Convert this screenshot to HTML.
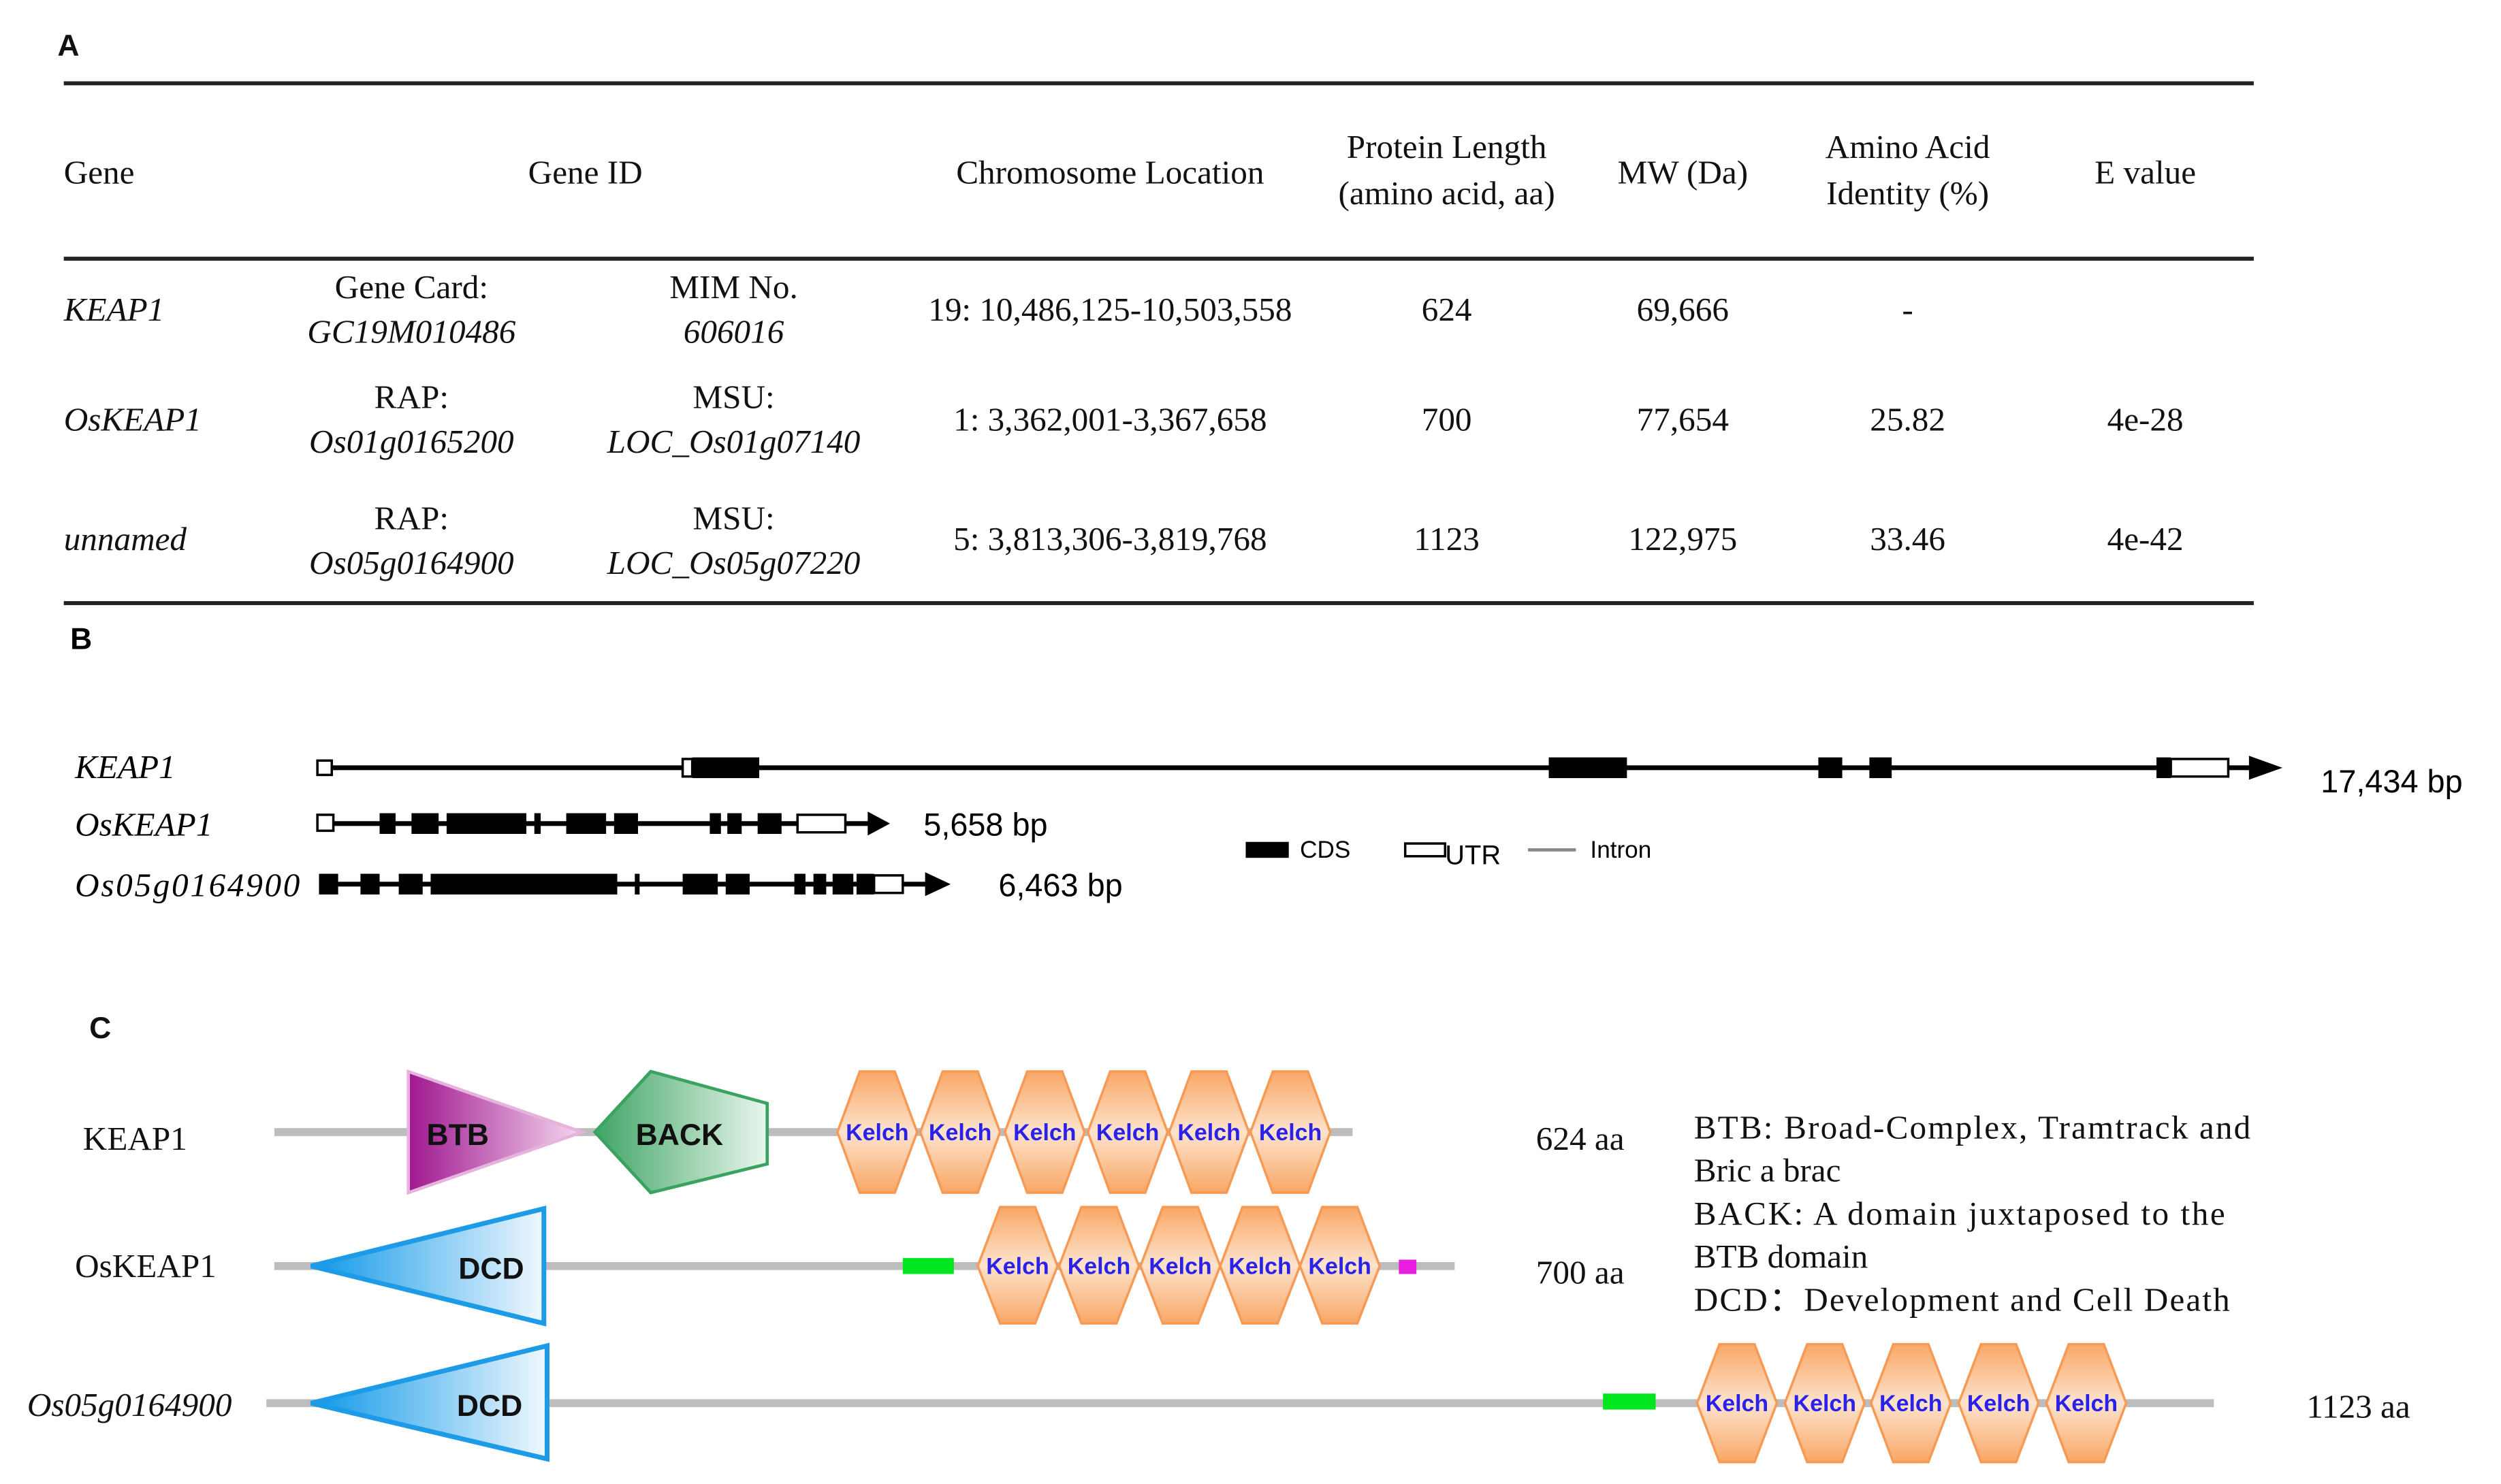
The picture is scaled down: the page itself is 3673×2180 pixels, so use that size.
<!DOCTYPE html>
<html><head><meta charset="utf-8"><style>html,body{margin:0;padding:0;background:#fff}svg{display:block}</style></head>
<body>
<svg width="3673" height="2180" viewBox="0 0 1568 930.7" preserveAspectRatio="none" xmlns="http://www.w3.org/2000/svg">
<defs>
<linearGradient id="kel" x1="0" y1="0" x2="0" y2="1"><stop offset="0" stop-color="#f9a766"/><stop offset="0.5" stop-color="#fde3cc"/><stop offset="1" stop-color="#f9a766"/></linearGradient>
<linearGradient id="btb" x1="0" y1="0" x2="1" y2="0"><stop offset="0" stop-color="#a0178f"/><stop offset="1" stop-color="#f4d8ef"/></linearGradient>
<linearGradient id="back" x1="0" y1="0" x2="1" y2="0"><stop offset="0" stop-color="#3fa565"/><stop offset="1" stop-color="#eaf6ee"/></linearGradient>
<linearGradient id="dcd" x1="0" y1="0" x2="1" y2="0"><stop offset="0" stop-color="#0f98e8"/><stop offset="1" stop-color="#f0f8fe"/></linearGradient>
</defs>
<g font-family="Liberation Serif, serif" font-size="21" fill="#111">
<text x="36" y="35" font-family="Liberation Sans, sans-serif" font-weight="bold" font-size="19">A</text>
<rect x="40" y="51" width="1373" height="2.5" fill="#222"/>
<rect x="40" y="161" width="1373" height="2.5" fill="#222"/>
<rect x="40" y="377" width="1373" height="2.5" fill="#222"/>
<text x="40" y="115">Gene</text>
<g text-anchor="middle">
<text x="367" y="115">Gene ID</text>
<text x="696" y="115">Chromosome Location</text>
<text x="907" y="99">Protein Length</text><text x="907" y="128">(amino acid, aa)</text>
<text x="1055" y="115">MW (Da)</text>
<text x="1196" y="99">Amino Acid</text><text x="1196" y="128">Identity (%)</text>
<text x="1345" y="115">E value</text>
<text x="258" y="187">Gene Card:</text><text x="258" y="215" font-style="italic">GC19M010486</text>
<text x="460" y="187">MIM No.</text><text x="460" y="215" font-style="italic">606016</text>
<text x="696" y="201">19: 10,486,125-10,503,558</text>
<text x="907" y="201">624</text><text x="1055" y="201">69,666</text><text x="1196" y="201">-</text>
<text x="258" y="256">RAP:</text><text x="258" y="284" font-style="italic">Os01g0165200</text>
<text x="460" y="256">MSU:</text><text x="460" y="284" font-style="italic">LOC_Os01g07140</text>
<text x="696" y="270">1: 3,362,001-3,367,658</text>
<text x="907" y="270">700</text><text x="1055" y="270">77,654</text><text x="1196" y="270">25.82</text><text x="1345" y="270">4e-28</text>
<text x="258" y="332">RAP:</text><text x="258" y="360" font-style="italic">Os05g0164900</text>
<text x="460" y="332">MSU:</text><text x="460" y="360" font-style="italic">LOC_Os05g07220</text>
<text x="696" y="345">5: 3,813,306-3,819,768</text>
<text x="907" y="345">1123</text><text x="1055" y="345">122,975</text><text x="1196" y="345">33.46</text><text x="1345" y="345">4e-42</text>
</g>
<text x="40" y="201" font-style="italic">KEAP1</text>
<text x="40" y="270" font-style="italic">OsKEAP1</text>
<text x="40" y="345" font-style="italic">unnamed</text>
</g>
<!-- B -->
<g font-family="Liberation Sans, sans-serif">
<text x="44" y="407" font-weight="bold" font-size="19">B</text>
<g font-family="Liberation Serif, serif" font-style="italic" font-size="21">
<text x="47" y="488">KEAP1</text><text x="47" y="524">OsKEAP1</text><text x="47" y="562" textLength="141">Os05g0164900</text>
</g>
<rect x="203" y="480" width="1210" height="3" fill="#000"/>
<polygon points="1410,474 1431,481.5 1410,489" fill="#000"/>
<rect x="199" y="477" width="9" height="9" fill="#fff" stroke="#000" stroke-width="1.5"/>
<rect x="428" y="476" width="6" height="11" fill="#fff" stroke="#000" stroke-width="1.5"/>
<rect x="434" y="475" width="42" height="13" fill="#000"/>
<rect x="971" y="475" width="49" height="13" fill="#000"/>
<rect x="1140" y="475" width="15" height="13" fill="#000"/>
<rect x="1172" y="475" width="14" height="13" fill="#000"/>
<rect x="1352" y="475" width="9" height="13" fill="#000"/>
<rect x="1361" y="476" width="36" height="11" fill="#fff" stroke="#000" stroke-width="1.5"/>
<text x="1455" y="497" font-size="20">17,434 bp</text>
<rect x="203" y="515" width="345" height="3" fill="#000"/>
<polygon points="544,509 558,516.5 544,524" fill="#000"/>
<rect x="199" y="511" width="10" height="10" fill="#fff" stroke="#000" stroke-width="1.5"/>
<g fill="#000">
<rect x="238" y="510" width="10" height="13"/><rect x="258" y="510" width="17" height="13"/><rect x="280" y="510" width="50" height="13"/><rect x="335" y="510" width="4" height="13"/><rect x="355" y="510" width="25" height="13"/><rect x="385" y="510" width="15" height="13"/><rect x="445" y="510" width="7" height="13"/><rect x="456" y="510" width="9" height="13"/><rect x="475" y="510" width="15" height="13"/>
</g>
<rect x="500" y="511" width="30" height="11" fill="#fff" stroke="#000" stroke-width="1.5"/>
<text x="579" y="524" font-size="20">5,658 bp</text>
<rect x="203" y="553" width="382" height="3" fill="#000"/>
<polygon points="580,547 596,554.5 580,562" fill="#000"/>
<g fill="#000">
<rect x="200" y="548" width="12" height="13"/><rect x="226" y="548" width="12" height="13"/><rect x="250" y="548" width="15" height="13"/><rect x="270" y="548" width="117" height="13"/><rect x="398" y="548" width="3" height="13"/><rect x="428" y="548" width="22" height="13"/><rect x="455" y="548" width="15" height="13"/><rect x="498" y="548" width="7" height="13"/><rect x="510" y="548" width="8" height="13"/><rect x="522" y="548" width="13" height="13"/><rect x="537" y="548" width="11" height="13"/>
</g>
<rect x="548" y="549" width="18" height="11" fill="#fff" stroke="#000" stroke-width="1.5"/>
<text x="626" y="562" font-size="20">6,463 bp</text>
<rect x="781" y="528" width="27" height="10" fill="#000"/>
<text x="815" y="538" font-size="15">CDS</text>
<rect x="881" y="529" width="25" height="8" fill="#fff" stroke="#000" stroke-width="1.5"/>
<text x="906" y="542" font-size="17">UTR</text>
<rect x="958" y="532" width="30" height="2" fill="#888"/>
<text x="997" y="538" font-size="15">Intron</text>
</g>
<!-- C -->
<g font-family="Liberation Serif, serif" font-size="21" fill="#111">
<text x="56" y="651" font-family="Liberation Sans, sans-serif" font-weight="bold" font-size="19">C</text>
<text x="52" y="721">KEAP1</text>
<text x="47" y="801">OsKEAP1</text>
<text x="17" y="888" font-style="italic">Os05g0164900</text>
<text x="963" y="721">624 aa</text>
<text x="963" y="805">700 aa</text>
<text x="1446" y="889">1123 aa</text>
<text x="1062" y="714" textLength="349">BTB: Broad-Complex, Tramtrack and</text>
<text x="1062" y="741">Bric a brac</text>
<text x="1062" y="768" textLength="333">BACK: A domain  juxtaposed to the</text>
<text x="1062" y="795">BTB domain</text>
<text x="1062" y="822" textLength="336">DCD：Development and Cell Death</text>
</g>
<rect x="172" y="707.5" width="676" height="5" fill="#bdbdbd"/>
<rect x="172" y="791.5" width="740" height="5" fill="#bdbdbd"/>
<rect x="167" y="877.5" width="1221" height="5" fill="#bdbdbd"/>
<polygon points="256,672 365,710 256,748" fill="url(#btb)" stroke="#e6b3dd" stroke-width="2"/>
<text x="287" y="718" font-family="Liberation Sans, sans-serif" font-weight="bold" font-size="19" text-anchor="middle" fill="#111">BTB</text>
<polygon points="373,710 408,672 481,692 481,730 408,748" fill="url(#back)" stroke="#3aa35f" stroke-width="2"/>
<text x="426" y="718" font-family="Liberation Sans, sans-serif" font-weight="bold" font-size="19" text-anchor="middle" fill="#111">BACK</text>
<polygon points="195,794 341,758 341,830" fill="url(#dcd)" stroke="#1d9be6" stroke-width="3"/>
<text x="308" y="802" font-family="Liberation Sans, sans-serif" font-weight="bold" font-size="19" text-anchor="middle" fill="#111">DCD</text>
<polygon points="195,880 343,844 343,915" fill="url(#dcd)" stroke="#1d9be6" stroke-width="3"/>
<text x="307" y="888" font-family="Liberation Sans, sans-serif" font-weight="bold" font-size="19" text-anchor="middle" fill="#111">DCD</text>
<rect x="566" y="789" width="32" height="10" fill="#00e61e"/>
<rect x="877" y="790" width="11" height="9" fill="#e81ee0"/>
<rect x="1005" y="874" width="33" height="10" fill="#00e61e"/>
<g font-family="Liberation Sans, sans-serif" font-weight="bold" font-size="14.5" fill="#2a22e8" text-anchor="middle">
<polygon points="539,672 561,672 575,710 561,748 539,748 525,710" fill="url(#kel)" stroke="#f79a55" stroke-width="1.5"/><text x="550" y="715">Kelch</text>
<polygon points="591,672 613,672 627,710 613,748 591,748 577,710" fill="url(#kel)" stroke="#f79a55" stroke-width="1.5"/><text x="602" y="715">Kelch</text>
<polygon points="644,672 666,672 680,710 666,748 644,748 630,710" fill="url(#kel)" stroke="#f79a55" stroke-width="1.5"/><text x="655" y="715">Kelch</text>
<polygon points="696,672 718,672 732,710 718,748 696,748 682,710" fill="url(#kel)" stroke="#f79a55" stroke-width="1.5"/><text x="707" y="715">Kelch</text>
<polygon points="747,672 769,672 783,710 769,748 747,748 733,710" fill="url(#kel)" stroke="#f79a55" stroke-width="1.5"/><text x="758" y="715">Kelch</text>
<polygon points="798,672 820,672 834,710 820,748 798,748 784,710" fill="url(#kel)" stroke="#f79a55" stroke-width="1.5"/><text x="809" y="715">Kelch</text>
<polygon points="627,757 649,757 663,794 649,830 627,830 613,794" fill="url(#kel)" stroke="#f79a55" stroke-width="1.5"/><text x="638" y="799">Kelch</text>
<polygon points="678,757 700,757 714,794 700,830 678,830 664,794" fill="url(#kel)" stroke="#f79a55" stroke-width="1.5"/><text x="689" y="799">Kelch</text>
<polygon points="729,757 751,757 765,794 751,830 729,830 715,794" fill="url(#kel)" stroke="#f79a55" stroke-width="1.5"/><text x="740" y="799">Kelch</text>
<polygon points="779,757 801,757 815,794 801,830 779,830 765,794" fill="url(#kel)" stroke="#f79a55" stroke-width="1.5"/><text x="790" y="799">Kelch</text>
<polygon points="829,757 851,757 865,794 851,830 829,830 815,794" fill="url(#kel)" stroke="#f79a55" stroke-width="1.5"/><text x="840" y="799">Kelch</text>
<polygon points="1078,843 1100,843 1114,880 1100,917 1078,917 1064,880" fill="url(#kel)" stroke="#f79a55" stroke-width="1.5"/><text x="1089" y="885">Kelch</text>
<polygon points="1133,843 1155,843 1169,880 1155,917 1133,917 1119,880" fill="url(#kel)" stroke="#f79a55" stroke-width="1.5"/><text x="1144" y="885">Kelch</text>
<polygon points="1187,843 1209,843 1223,880 1209,917 1187,917 1173,880" fill="url(#kel)" stroke="#f79a55" stroke-width="1.5"/><text x="1198" y="885">Kelch</text>
<polygon points="1242,843 1264,843 1278,880 1264,917 1242,917 1228,880" fill="url(#kel)" stroke="#f79a55" stroke-width="1.5"/><text x="1253" y="885">Kelch</text>
<polygon points="1297,843 1319,843 1333,880 1319,917 1297,917 1283,880" fill="url(#kel)" stroke="#f79a55" stroke-width="1.5"/><text x="1308" y="885">Kelch</text>
</g>
</svg>
</body></html>
